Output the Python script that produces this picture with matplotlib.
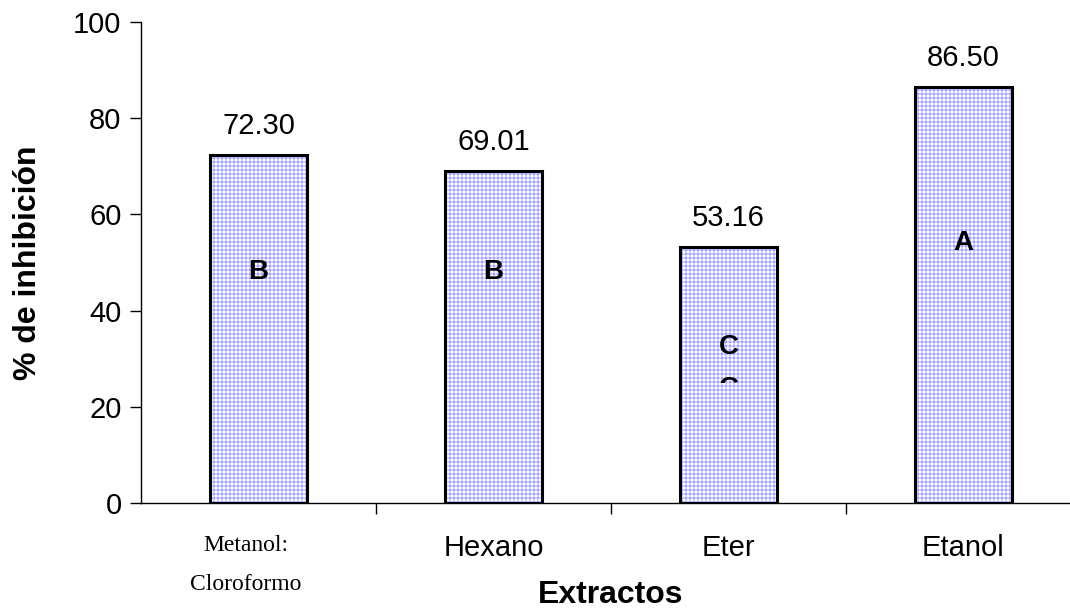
import numpy as np
import matplotlib.pyplot as plt
from matplotlib.transforms import Bbox, TransformedBbox

# data
extractos = ['Metanol:\nCloroformo', 'Hexano', 'Eter', 'Etanol']
inhibicion = [72.30, 69.01, 53.16, 86.50]
grupos = ['B', 'B', 'C', 'A']
grupo_y = [48, 48, 32.5, 54]

# render at 96 dpi so the hatch grid lands on whole pixels; sizes scaled to match
DPI = 96
k = 100 / DPI

plt.rcParams['font.family'] = ['Liberation Sans', 'DejaVu Sans']
plt.rcParams['hatch.linewidth'] = 0.75

fig = plt.figure(figsize=(1070 / DPI, 613 / DPI), dpi=DPI)
ax = fig.add_axes([141 / 1070, 110 / 613, 940 / 1070, 481 / 613])

x = np.arange(len(extractos))
# blue grid fill, then black outline on top
ax.bar(x, inhibicion, width=0.41, facecolor='white', edgecolor='#a4a4ff',
       linewidth=0, hatch='++++', zorder=2)
ax.bar(x, inhibicion, width=0.41, fill=False, edgecolor='black',
       linewidth=2.2 * k, zorder=3)

for xi, v in zip(x, inhibicion):
    ax.annotate(f'{v:.2f}', (xi, v), xytext=(0, 11 * k), textcoords='offset points',
                ha='center', va='bottom', fontsize=21 * k)

for xi, g, gy in zip(x, grupos, grupo_y):
    ax.text(xi, gy, g, ha='center', va='center', fontsize=20 * k,
            fontweight='bold', zorder=4)

# clipped leftover letter under the C
t = ax.text(2, 23.6, 'C', ha='center', va='center', fontsize=20 * k,
            fontweight='bold', zorder=4)
t.set_clip_box(TransformedBbox(Bbox([[1.8, 25.0], [2.2, 30]]), ax.transData))
t.set_clip_on(True)

ax.set_xlim(-0.5, 3.5)
ax.set_ylim(0, 100)
ax.set_yticks(np.arange(0, 101, 20))
ax.set_xticks(x)
ax.set_xticklabels(['', 'Hexano', 'Eter', 'Etanol'], fontsize=21 * k)
ax.set_xticks(np.arange(0.5, 3, 1), minor=True)
ax.tick_params(axis='x', which='major', length=0, pad=22 * k)
ax.tick_params(axis='x', which='minor', length=8 * k, width=1 * k, direction='out')
ax.tick_params(axis='y', labelsize=21 * k, length=8 * k, width=1 * k,
               direction='out', pad=6 * k)

ax.text(-0.055, -8.8, 'Metanol:', ha='center', va='center', fontsize=17 * k,
        family='Liberation Serif', clip_on=False)
ax.text(-0.055, -17, 'Cloroformo', ha='center', va='center', fontsize=17 * k,
        family='Liberation Serif', clip_on=False)

for s in ['top', 'right']:
    ax.spines[s].set_visible(False)
ax.spines['left'].set_linewidth(1 * k)
ax.spines['bottom'].set_linewidth(1 * k)

ax.set_ylabel('% de inhibición', fontsize=23 * k, fontweight='bold', labelpad=22 * k)
ax.set_xlabel('Extractos', fontsize=23 * k, fontweight='bold', labelpad=13 * k)

fig.savefig('out.png', dpi=DPI)
